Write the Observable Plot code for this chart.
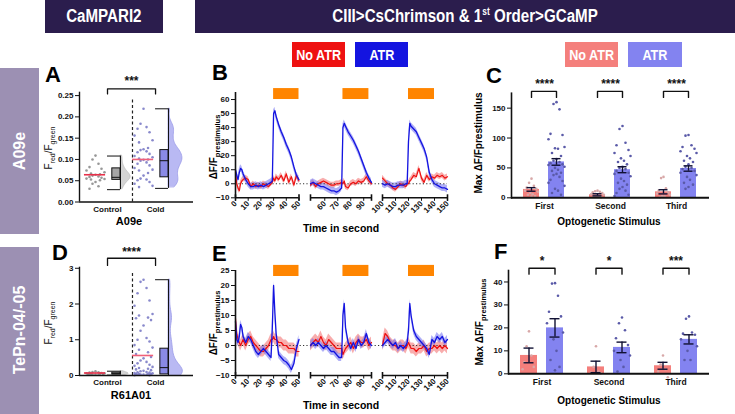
<!DOCTYPE html>
<html><head><meta charset="utf-8">
<script src="https://cdn.jsdelivr.net/npm/d3@7"></script>
<script src="https://cdn.jsdelivr.net/npm/@observablehq/plot@0.6"></script>
<style>
body{margin:0;background:#fff;font-family:"Liberation Sans",Arial,sans-serif;}
#root{position:relative;width:735px;height:414px;overflow:hidden;background:#fff;}
#root svg{overflow:visible;}
.narrow{font-family:"Liberation Sans",Arial,sans-serif;font-weight:bold;}
.narrow span{display:inline-block;transform:scaleX(0.84);white-space:nowrap;}
</style></head>
<body><div id="root"></div>
<script>
// ---------------- DATA ----------------
const groupsRC = ["Control", "Cold"];
// Panel A (A09e) F_red/F_green
const a09eControl = [0.109,0.100,0.090,0.082,0.078,0.074,0.070,0.067,0.065,0.064,0.062,0.060,0.059,0.057,0.055,0.054,0.053,0.051,0.047,0.043,0.037,0.031];
const a09eCold = [0.219,0.184,0.176,0.172,0.164,0.156,0.145,0.140,0.127,0.124,0.122,0.119,0.117,0.113,0.108,0.105,0.102,0.100,0.099,0.097,0.093,0.090,0.086,0.080,0.076,0.074,0.068,0.062,0.055,0.053,0.051,0.047,0.043,0.038,0.035];
const a09eMeans = [0.064, 0.100];
// box stats: [min, q1, median, q3, max]
const a09eBoxControl = [0.029, 0.052, 0.058, 0.079, 0.108];
const a09eBoxCold = [0.032, 0.058, 0.097, 0.122, 0.219];
const a09eStars = "***";
// Panel D (R61A01)
const r61Control = [0.12,0.10,0.09,0.08,0.07,0.06,0.06,0.05,0.05,0.04,0.04,0.03,0.03,0.02,0.02];
const r61Cold = [2.68,2.62,2.45,2.30,2.10,1.95,1.72,1.68,1.62,1.60,1.55,1.40,1.25,1.05,1.00,0.95,0.85,0.78,0.72,0.65,0.60,0.52,0.48,0.42,0.38,0.34,0.30,0.27,0.24,0.21,0.19,0.17,0.15,0.13,0.12,0.10,0.09,0.08,0.07,0.06,0.05,0.05,0.04,0.04,0.03,0.03,0.02,0.02,0.01,0.01];
const r61Means = [0.07, 0.56];
const r61BoxControl = [0.01, 0.03, 0.05, 0.08, 0.12];
const r61BoxCold = [0.0, 0.03, 0.22, 0.75, 2.68];
const r61Stars = "****";

// Traces (time in s)
const tSeg1 = [0,1,2,3,4,5,6,8,10,12,14,16,18,20,22,24,26,28,29,30,31,32,34,36,38,40,42,44,46,48,50];
const tSeg2 = [49,51,53,55,57,59,61,63,65,67,69,71,73,74,75,76,78,80,82,84,86,88,90,92,94,96];
const tSeg3 = [100,102,104,106,108,110,112,114,116,118,119,120,121,122,124,126,128,130,132,134,136,138,140,142,144,146,148,150];
const stimOn = [30, 74, 120];
const stimOff = [50, 94, 140];
// Panel B
const bAtr1 = [10,6,3,8,11,10,7,3,0,-2,-2,-1,-2,-1,-2,-1,0,1,2,50,52,48,42,37,33,28,24,19,12,6,3];
const bNoAtr1 = [8,0,-3,-5,0,2,3,4,3,-2,0,-2,-1,-2,0,-1,-2,0,1,4,2,5,3,6,2,7,1,5,-1,6,2];
const bAtr2 = [0,1,0,-1,-2,-2,-3,-4,-5,-5,-6,-5,-3,40,43,41,37,34,31,27,23,18,13,8,4,1];
const bNoAtr2 = [-1,1,-2,0,1,2,1,0,-1,-1,0,0,1,0,2,-2,-3,0,1,0,2,1,2,5,2,0];
const bAtr3 = [0,-1,0,-1,-2,-2,-1,-1,-1,0,0,30,43,41,39,37,33,29,25,19,8,3,0,-1,-2,-3,-3,-4];
const bNoAtr3 = [4,2,0,-1,-3,-4,-2,0,-1,-2,0,0,2,3,6,5,11,4,1,6,3,5,4,6,5,6,4,5];
const bSem = [2.0, 2.5]; // No ATR, ATR
// Panel E
const eAtr1 = [8,2,1,3,7,6,3,1,3,2,0,-2,-3,-2,-1,-2,-3,-4,6,20,11,4,-3,-4,-5,-5.5,-6.5,-8,-6,-1,2];
const eNoAtr1 = [9,4,2,1,0,1,2,0,2,3,1,0,-1,-2,-2,-1,0,2,2,3,2,2,1,1,0,0,-1,-1,-1,-2,-2];
const eAtr2 = [0,1,0,1,0,-1,0,-1,-2,-2,-3,-4,-4,10,14,6,1,-1,1,-1,2,0,1,4,1,0];
const eNoAtr2 = [0,1,2,1,3,1,0,2,1,0,-1,-1,-1,-3,-2,-1,0,1,-1,1,2,1,1,2,0,1];
const eAtr3 = [0,1,2,1,0,1,-1,0,-1,0,1,5,14,10,5,3,2,1,0,-1,-3,2,1,3,2,3,1,2];
const eNoAtr3 = [0,4,3,1,0,0,-1,0,0,-1,0,1,0,-1,-1,-2,-1,-1,0,-2,-1,-1,0,-1,0,-1,0,-1];
const eSem = [1.8, 1.3];

// Panels C and F
const stimuli = ["First", "Second", "Third"];
const seriesNames = ["No ATR", "ATR"];
const cMeanNo = [14, 5, 10];
const cMeanAtr = [60, 47, 49];
const cSemNo = [3, 1.8, 3.5];
const cSemAtr = [5.5, 5, 4.5];
const cDotsNo = [[32,25,20,17,15,12,10,8,6,5,3,2],[12,11,10,9,8,6,5,4,3,2,1],[35,33,16,12,9,7,5,3,2,1]];
const cDotsAtr = [[160,157,148,107,105,98,85,83,82,75,70,65,62,60,58,56,55,52,50,47,45,42,40,38,35,30,28,25,20,15,12,8,5],
  [120,115,92,88,80,75,70,66,62,60,56,52,50,48,45,42,40,36,32,28,25,22,18,15,12,8,5,3],
  [105,104,88,85,82,78,75,70,66,62,60,56,52,50,48,45,42,38,35,30,25,22,18,15]];
const cStars = ["****", "****", "****"];
const fMeanNo = [8, 3, 3.5];
const fMeanAtr = [20, 11.5, 15];
const fSemNo = [3.2, 2.5, 1.5];
const fSemAtr = [4, 2.3, 2];
const fDotsNo = [[18.5,12,8,5,3,2],[12,3,1,0.5,0.2],[8,4,2,1,-1.5]];
const fDotsAtr = [[39.5,39.3,34,27,25,22,18,15,10,6,3,1.5],[24.5,22,19,15.5,12.5,10,8,6,3,1],[25,24,18,17.5,17,15,12,10,6,6]];
const fStars = ["*", "*", "***"];

// ---------------- STYLE ----------------
const C = {
  header: "#2b1d4d", side: "#9c90b3",
  red: "#ee1111", blue: "#1414e0", redBand: "#f26a6a", blueBand: "#7070f0",
  orange: "#ff8500", salmon: "#f47f7c", peri: "#8383f0",
  dotAtr: "#5a5aa8", dotNo: "#d8a8a8", ctrlDot: "#8c8c8c", coldDot: "#7c7cc6",
  meanRed: "#e8304a", meanPink: "#f0607a", ink: "#111"
};
const FONT = '"Liberation Sans", Arial, sans-serif';
const root = document.getElementById("root");
function addDiv(html, style, cls) {
  const d = document.createElement("div");
  d.innerHTML = html;
  if (cls) d.className = cls;
  Object.assign(d.style, {position: "absolute"}, style);
  root.appendChild(d);
  return d;
}
function place(svg, left, top) {
  svg.style.position = "absolute";
  svg.style.left = left + "px";
  svg.style.top = top + "px";
  root.appendChild(svg);
}
function vlabel(html, cx, cy, style) {
  addDiv(html, Object.assign({left: cx + "px", top: cy + "px", transform: "translate(-50%,-50%) rotate(-90deg)", whiteSpace: "nowrap", lineHeight: "1"}, style));
}
function hlabel(html, cx, cy, style) {
  addDiv(html, Object.assign({left: cx + "px", top: cy + "px", transform: "translate(-50%,-50%)", whiteSpace: "nowrap", lineHeight: "1"}, style));
}
const plotStyle = {fontFamily: FONT, fontSize: "8px", fontWeight: "bold", background: "transparent", overflow: "visible", color: C.ink};

// ---------------- HEADERS ----------------
const boxFlex = {display: "flex", alignItems: "center", justifyContent: "center", color: "#fff"};
addDiv("<span>CaMPARI2</span>", Object.assign({left: "45px", top: "0px", width: "118px", height: "33px", background: C.header, fontSize: "18px"}, boxFlex), "narrow");
addDiv("<span>CIII&gt;CsChrimson &amp; 1<sup style='font-size:10px'>st</sup> Order&gt;GCaMP</span>", Object.assign({left: "195px", top: "0px", width: "540px", height: "33px", background: C.header, fontSize: "18px"}, boxFlex), "narrow");
addDiv("", {left: "0px", top: "68px", width: "39px", height: "166px", background: C.side});
addDiv("", {left: "0px", top: "247px", width: "39px", height: "167px", background: C.side});
vlabel("A09e", 20, 151, {color: "#fff", fontSize: "16px", fontWeight: "bold"});
vlabel("TePn-04/-05", 20, 330, {color: "#fff", fontSize: "16px", fontWeight: "bold"});
// legends
function legendBox(text, x, w, bg) {
  addDiv("<span>" + text + "</span>", Object.assign({left: x + "px", top: "42px", width: w + "px", height: "25px", background: bg, fontSize: "15px"}, boxFlex), "narrow");
}
legendBox("No ATR", 292, 53, C.red);
legendBox("ATR", 355, 53, C.blue);
legendBox("No ATR", 565, 53, C.salmon);
legendBox("ATR", 628, 54, C.peri);
// panel letters
function letter(t, x, y) { addDiv(t, {left: x + "px", top: y + "px", fontSize: "22px", fontWeight: "bold", lineHeight: "1", color: "#000"}); }
letter("A", 45, 64); letter("B", 212, 62); letter("C", 486, 65);
letter("D", 52, 242); letter("E", 212, 243); letter("F", 494, 241);

// ---------------- RAINCLOUD PANELS (A, D) ----------------
const RC = {dot: -0.25, meanL: -0.48, meanR: -0.04, boxL: 0.10, boxR: 0.27, capL: 0.0, violin: 0.27, dash: 0.52};
function gauss(u) { return Math.exp(-0.5 * u * u); }
function violinRows(values, g, bw, maxW) {
  const lo = d3.min(values), hi = d3.max(values), n = 60;
  const rows = d3.range(n + 1).map(i => {
    const y = lo + (hi - lo) * i / n;
    return {y, d: d3.mean(values, v => gauss((y - v) / bw))};
  });
  const m = d3.max(rows, r => r.d);
  return rows.map(r => ({y: r.y, x1: g + RC.violin, x2: g + RC.violin + r.d / m * maxW}));
}
function jitter(values, g, offsets) {
  return values.map((v, i) => ({x: g + RC.dot, y: v, k: i % offsets.length}));
}
function raincloud(o) {
  const [ctrl, cold] = o.data;
  const marks = [];
  marks.push(Plot.ruleX([RC.dash], {y1: o.yDomain[0], y2: o.dashTop, strokeDasharray: "3,2.5", strokeWidth: 1.2, stroke: "#222"}));
  const vCols = [["#d4d4d4", "#bdbdbd"], ["#b9b9f3", "#9c9ce8"]];
  [ctrl, cold].forEach((vals, g) => {
    marks.push(Plot.areaX(violinRows(vals, g, o.bw[g], o.violinW[g]), {y: "y", x1: "x1", x2: "x2", fill: vCols[g][0], stroke: vCols[g][1], strokeWidth: 0.8, curve: "basis"}));
  });
  const dotCol = [C.ctrlDot, C.coldDot];
  [ctrl, cold].forEach((vals, g) => {
    const rows = jitter(vals, g, o.offsets);
    o.offsets.forEach((dx, k) => {
      marks.push(Plot.dot(rows.filter(r => r.k === k), {x: "x", y: "y", dx, r: 1.3, fill: dotCol[g], fillOpacity: 0.9}));
    });
  });
  marks.push(Plot.ruleY(o.means.map((m, g) => ({g, m})), {y: "m", x1: d => d.g + RC.meanL, x2: d => d.g + RC.meanR, stroke: d => d.g ? C.meanPink : C.meanRed, strokeWidth: 1.6}));
  const boxCol = ["#a6a6a6", "#8a8ae6"];
  o.boxes.forEach((b, g) => {
    const [mn, q1, md, q3, mx] = b;
    marks.push(Plot.ruleX([{g}], {x: d => d.g + RC.boxR, y1: mn, y2: mx, stroke: "#111", strokeWidth: 1}));
    marks.push(Plot.ruleY([mn, mx], {y: d => d, x1: g + RC.capL, x2: g + RC.boxR, stroke: "#111", strokeWidth: 1}));
    marks.push(Plot.rect([{g}], {x1: d => d.g + RC.boxL, x2: d => d.g + RC.boxR, y1: q1, y2: q3, fill: boxCol[g], stroke: "#111", strokeWidth: 1}));
    marks.push(Plot.ruleY([md], {x1: g + RC.boxL, x2: g + RC.boxR, stroke: "#111", strokeWidth: 1}));
  });
  const [bLo, bHi, tY] = o.bracket;
  marks.push(Plot.line([{x: 0, y: bLo}, {x: 0, y: bHi}, {x: 1, y: bHi}, {x: 1, y: bLo}], {x: "x", y: "y", stroke: "#111", strokeWidth: 1.3}));
  marks.push(Plot.text([{x: 0.5, y: tY, t: o.stars}], {x: "x", y: "y", text: "t", fontSize: 12, fontWeight: "bold"}));
  marks.push(Plot.ruleY([o.yDomain[0]], {stroke: "#111", strokeWidth: 1.4}));
  marks.push(Plot.ruleX([o.xDomain[0]], {y1: o.yDomain[0], y2: o.yDomain[1], stroke: "#111", strokeWidth: 1.4}));
  marks.push(Plot.axisY({ticks: o.yTicks, tickFormat: o.yFormat, tickSize: 4, tickPadding: 2}));
  marks.push(Plot.axisX({ticks: [0, 1], tickFormat: i => groupsRC[i], tickSize: 0, tickPadding: 4}));
  const svg = Plot.plot({
    width: o.width, height: o.height, marginLeft: o.mL, marginRight: o.mR, marginTop: o.mT, marginBottom: o.mB,
    x: {domain: o.xDomain}, y: {domain: o.yDomain}, style: plotStyle, marks
  });
  place(svg, o.left, o.top);
}
const rcXDomain = [-0.583, 1.79];
raincloud({data: [a09eControl, a09eCold], means: a09eMeans, boxes: [a09eBoxControl, a09eBoxCold], stars: a09eStars,
  yDomain: [0, 0.258], yTicks: [0, 0.05, 0.10, 0.15, 0.20, 0.25], yFormat: d3.format(".2f"), xDomain: rcXDomain,
  dashTop: 0.24, bw: [0.008, 0.012], violinW: [0.21, 0.29], offsets: [0, -3, 3, -6, 6, -9, 9, -4.5, 4.5],
  bracket: [0.254, 0.266, 0.283],
  left: 25, top: 85, width: 175, height: 130, mL: 54, mR: 7, mT: 6.7, mB: 13.5});
raincloud({data: [r61Control, r61Cold], means: r61Means, boxes: [r61BoxControl, r61BoxCold], stars: r61Stars,
  yDomain: [0, 3.03], yTicks: [0, 1, 2, 3], yFormat: d3.format("d"), xDomain: rcXDomain,
  dashTop: 2.86, bw: [0.03, 0.18], violinW: [0.17, 0.3], offsets: [0, -3, 3, -6, 6, -9, 9, -4.5, 4.5, -7.5, 7.5],
  bracket: [3.08, 3.28, 3.46],
  left: 25, top: 255, width: 175, height: 135, mL: 54, mR: 7, mT: 11.7, mB: 15});
vlabel("F<sub style='font-size:7px'>red</sub>/F<sub style='font-size:7px'>green</sub>", 50, 148, {fontSize: "10px", color: "#111"});
vlabel("F<sub style='font-size:7px'>red</sub>/F<sub style='font-size:7px'>green</sub>", 50, 323, {fontSize: "10px", color: "#111"});
hlabel("A09e", 129, 221, {fontSize: "11px", fontWeight: "bold"});
hlabel("R61A01", 131, 395, {fontSize: "11px", fontWeight: "bold"});

// ---------------- TRACE PANELS (B, E) ----------------
function traceSegment(o) {
  const rows = o.t.map((t, i) => ({t, no: o.no[i], atr: o.atr[i]}));
  const [y0, yTop] = o.yDomain;
  const marks = [
    Plot.rect([{a: o.on, b: o.off}], {x1: "a", x2: "b", y1: o.bar[0], y2: o.bar[1], fill: C.orange}),
    Plot.areaY(rows, {x: "t", y1: d => d.no - o.sem[0], y2: d => d.no + o.sem[0], fill: C.redBand, fillOpacity: 0.55}),
    Plot.areaY(rows, {x: "t", y1: d => d.atr - o.sem[1], y2: d => d.atr + o.sem[1], fill: C.blueBand, fillOpacity: 0.55}),
    Plot.ruleY([0], {stroke: "#333", strokeDasharray: "1.2,2.2", strokeWidth: 1, insetRight: o.gap}),
    Plot.line(rows, {x: "t", y: "no", stroke: C.red, strokeWidth: 1.2}),
    Plot.line(rows, {x: "t", y: "atr", stroke: C.blue, strokeWidth: 1.3}),
    Plot.ruleY([y0], {stroke: "#111", strokeWidth: 1.6}),
    Plot.ruleX(o.xDomain, {y1: y0, y2: y0, insetTop: -3, insetBottom: -3.5, stroke: "#111", strokeWidth: 1.6}),
    Plot.axisX({ticks: o.xTicks, tickSize: 3.5, tickPadding: 1, tickRotate: -45})
  ];
  if (o.showY) {
    marks.push(Plot.ruleX([o.xDomain[0]], {y1: y0, y2: yTop, stroke: "#111", strokeWidth: 1.6}));
    marks.push(Plot.axisY({ticks: o.yTicks, tickSize: 4, tickPadding: 2}));
  }
  const svg = Plot.plot({
    width: o.width, height: o.height, marginLeft: o.mL, marginRight: o.mR, marginTop: o.mT, marginBottom: o.mB,
    x: {domain: o.xDomain}, y: {domain: o.yDomain, axis: o.showY ? undefined : null}, style: plotStyle, marks
  });
  place(svg, o.left, o.top);
}
function tracePanel(top, series, sem, yDomain, yTicks, bar, mT, mB, height) {
  const segs = [
    {t: tSeg1, xDomain: [0, 50], xTicks: [0,10,20,30,40,50], left: 195, width: 110, mL: 40, mR: 6.5, showY: true, gap: -11},
    {t: tSeg2, xDomain: [49, 96], xTicks: [60,70,80,90], left: 305, width: 70, mL: 5, mR: 4, showY: false, gap: -11},
    {t: tSeg3, xDomain: [100, 150], xTicks: [100,110,120,130,140,150], left: 375, width: 80, mL: 7, mR: 8, showY: false, gap: 0}
  ];
  segs.forEach((s, i) => traceSegment(Object.assign({}, s, {
    no: series[i][0], atr: series[i][1], sem, yDomain, yTicks, bar, on: stimOn[i], off: stimOff[i],
    top, height, mT, mB
  })));
}
tracePanel(80, [[bNoAtr1, bAtr1], [bNoAtr2, bAtr2], [bNoAtr3, bAtr3]], bSem, [-10, 65], [-10,0,10,20,30,40,50,60], [60, 67.8], 12, 32.7, 150);
tracePanel(255, [[eNoAtr1, eAtr1], [eNoAtr2, eAtr2], [eNoAtr3, eAtr3]], eSem, [-10, 25], [-10,-5,0,5,10,15,20,25], [23, 26.7], 15, 30, 150);
const dff = "ΔF/F<sub style='font-size:7.5px'>prestimulus</sub>";
vlabel(dff, 215, 147, {fontSize: "10px", fontWeight: "bold"});
vlabel(dff, 215, 323, {fontSize: "10px", fontWeight: "bold"});
hlabel("Time in second", 341, 228, {fontSize: "10.5px", fontWeight: "bold"});
hlabel("Time in second", 341, 405, {fontSize: "10.5px", fontWeight: "bold"});

// ---------------- BAR PANELS (C, F) ----------------
function barPanel(o) {
  const bars = stimuli.flatMap((s, i) => [
    {stim: s, series: "No ATR", m: o.meanNo[i], lo: o.meanNo[i] - o.semNo[i], hi: o.meanNo[i] + o.semNo[i]},
    {stim: s, series: "ATR", m: o.meanAtr[i], lo: o.meanAtr[i] - o.semAtr[i], hi: o.meanAtr[i] + o.semAtr[i]}
  ]);
  const offsets = [0, -3, 3, -6, 6, -8, 8, -1.5, 1.5, -4.5, 4.5];
  const dots = stimuli.flatMap((s, i) => [
    ...o.dotsNo[i].map((v, j) => ({stim: s, series: "No ATR", v, k: j % offsets.length})),
    ...o.dotsAtr[i].map((v, j) => ({stim: s, series: "ATR", v, k: j % offsets.length}))
  ]);
  const [bLo, bHi, tY] = o.bracket;
  const brackets = stimuli.flatMap(s => [
    {stim: s, series: "No ATR", y: bLo}, {stim: s, series: "No ATR", y: bHi},
    {stim: s, series: "ATR", y: bHi}, {stim: s, series: "ATR", y: bLo}
  ]);
  const marks = [
    Plot.barY(bars.filter(d => d.series === "No ATR"), {fx: "stim", x: "series", y: "m", fill: C.salmon}),
    Plot.barY(bars.filter(d => d.series === "ATR"), {fx: "stim", x: "series", y: "m", fill: C.peri}),
  ];
  offsets.forEach((dx, k) => {
    marks.push(Plot.dot(dots.filter(d => d.k === k && d.series === "No ATR"), {fx: "stim", x: "series", y: "v", dx: dx * 0.8, r: 1.3, fill: C.dotNo}));
    marks.push(Plot.dot(dots.filter(d => d.k === k && d.series === "ATR"), {fx: "stim", x: "series", y: "v", dx, r: 1.3, fill: C.dotAtr}));
  });
  marks.push(
    Plot.ruleX(bars, {fx: "stim", x: "series", y1: "lo", y2: "hi", stroke: "#111133", strokeWidth: 1.4}),
    Plot.tickY(bars, {fx: "stim", x: "series", y: "lo", stroke: "#111133", strokeWidth: 1.4, insetLeft: 3.5, insetRight: 3.5}),
    Plot.tickY(bars, {fx: "stim", x: "series", y: "hi", stroke: "#111133", strokeWidth: 1.4, insetLeft: 3.5, insetRight: 3.5}),
    Plot.line(brackets, {fx: "stim", x: "series", y: "y", z: "stim", stroke: "#111", strokeWidth: 1.4}),
    Plot.text(stimuli.map((s, i) => ({stim: s, t: o.stars[i], y: tY})), {fx: "stim", y: "y", text: "t", fontSize: 12, fontWeight: "bold"}),
    Plot.ruleY([0], {stroke: "#111", strokeWidth: 2}),
    Plot.frame({anchor: "left", facetAnchor: "left", stroke: "#111", strokeWidth: 1.6}),
    Plot.axisY({ticks: o.yTicks, tickSize: 4, tickPadding: 2}),
    Plot.axisFx({anchor: "bottom", tickSize: 0, tickPadding: 5, label: null, fontSize: 8.5})
  );
  const svg = Plot.plot({
    width: o.width, height: o.height, marginLeft: o.mL, marginRight: o.mR, marginTop: o.mT, marginBottom: o.mB,
    fx: {domain: stimuli, padding: 0},
    x: {domain: seriesNames, paddingInner: 0.35, paddingOuter: 0.45, axis: null},
    y: {domain: o.yDomain}, style: plotStyle, marks
  });
  place(svg, o.left, o.top);
}
barPanel({meanNo: cMeanNo, meanAtr: cMeanAtr, semNo: cSemNo, semAtr: cSemAtr, dotsNo: cDotsNo, dotsAtr: cDotsAtr, stars: cStars,
  yDomain: [0, 175], yTicks: [0, 50, 100, 150], bracket: [168, 178, 190],
  left: 455, top: 80, width: 270, height: 150, mL: 55, mR: 16, mT: 12.7, mB: 32.7});
barPanel({meanNo: fMeanNo, meanAtr: fMeanAtr, semNo: fSemNo, semAtr: fSemAtr, dotsNo: fDotsNo, dotsAtr: fDotsAtr, stars: fStars,
  yDomain: [0, 45], yTicks: [0, 10, 20, 30, 40], bracket: [43.4, 46, 49],
  left: 455, top: 255, width: 270, height: 150, mL: 52, mR: 16, mT: 15, mB: 31.7});
vlabel("Max ΔF/Fprestimulus", 479, 143, {fontSize: "10px", fontWeight: "bold"});
vlabel("Max ΔF/F<sub style='font-size:7.5px'>prestimulus</sub>", 481, 322, {fontSize: "10px", fontWeight: "bold"});
hlabel("Optogenetic Stimulus", 609, 222, {fontSize: "10px", fontWeight: "bold"});
hlabel("Optogenetic Stimulus", 609, 401, {fontSize: "10px", fontWeight: "bold"});
</script>
</body></html>
